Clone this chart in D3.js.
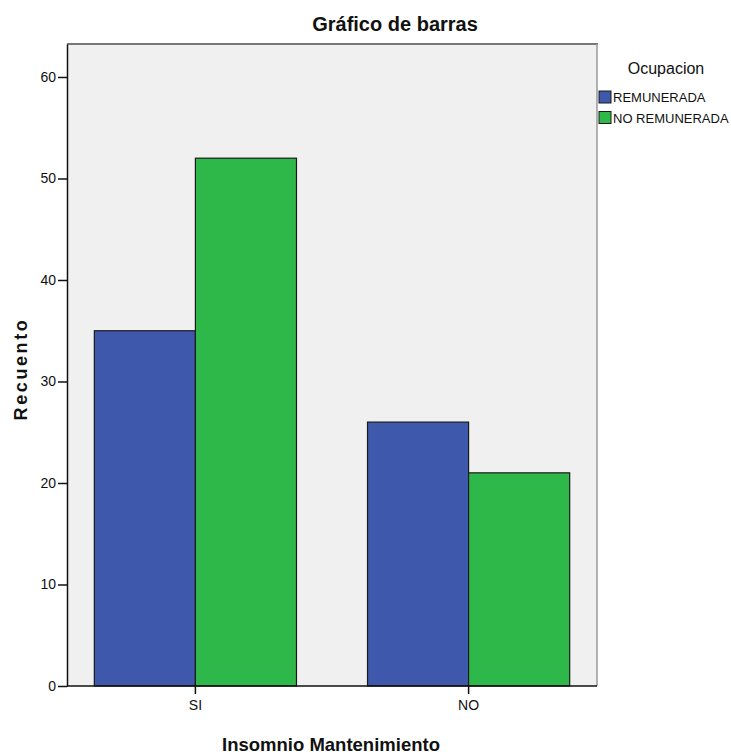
<!DOCTYPE html>
<html>
<head>
<meta charset="utf-8">
<script src="https://cdn.jsdelivr.net/npm/d3@7"></script>
<style>
  html, body { margin: 0; padding: 0; background: #fff; }
  svg { display: block; }
  text { font-family: "Liberation Sans", Arial, sans-serif; fill: #111; }
</style>
</head>
<body>
<svg id="chart" width="731" height="754"></svg>
<script>
// Recuento por categoría de insomnio y tipo de ocupación
const categories = ["SI", "NO"];
const seriesNames = ["REMUNERADA", "NO REMUNERADA"];
const remunerada = [35, 26];
const noRemunerada = [52, 21];
const yTicks = [0, 10, 20, 30, 40, 50, 60];
const colors = ["#3e58ab", "#2fb84a"];

const rows = categories.map((c, i) => ({
  cat: c,
  values: [
    { key: seriesNames[0], value: remunerada[i] },
    { key: seriesNames[1], value: noRemunerada[i] }
  ]
}));

const svg = d3.select("#chart");
const plot = { left: 67, top: 44, right: 597, bottom: 686 };

const x0 = d3.scaleBand()
  .domain(categories)
  .range([plot.left, plot.right])
  .paddingInner(0.26)
  .paddingOuter(0.1);

const x1 = d3.scaleBand()
  .domain(seriesNames)
  .range([0, x0.bandwidth()])
  .padding(0);

const y = d3.scaleLinear()
  .domain([0, 63.25])
  .range([plot.bottom, plot.top]);

const color = d3.scaleOrdinal().domain(seriesNames).range(colors);

// plot background
svg.append("rect")
  .attr("x", plot.left).attr("y", plot.top)
  .attr("width", plot.right - plot.left)
  .attr("height", plot.bottom - plot.top)
  .attr("fill", "#f0f0f0");

// top and right frame (grey)
svg.append("line")
  .attr("x1", plot.left).attr("x2", plot.right + 1)
  .attr("y1", plot.top).attr("y2", plot.top)
  .attr("stroke", "#777").attr("stroke-width", 2);
svg.append("line")
  .attr("x1", plot.right).attr("x2", plot.right)
  .attr("y1", plot.top).attr("y2", plot.bottom)
  .attr("stroke", "#999").attr("stroke-width", 1.5);

// bars
const groups = svg.append("g").selectAll("g")
  .data(rows)
  .join("g")
  .attr("transform", d => `translate(${x0(d.cat)},0)`);

groups.selectAll("rect")
  .data(d => d.values)
  .join("rect")
  .attr("x", d => x1(d.key))
  .attr("y", d => y(d.value))
  .attr("width", x1.bandwidth())
  .attr("height", d => y(0) - y(d.value))
  .attr("fill", d => color(d.key))
  .attr("stroke", "#1a1a1a")
  .attr("stroke-width", 1.2);

// y axis
const yAxis = svg.append("g")
  .attr("transform", `translate(${plot.left},0)`)
  .call(d3.axisLeft(y).tickValues(yTicks).tickSize(9).tickSizeOuter(0).tickPadding(2));
yAxis.select(".domain").attr("stroke", "#111").attr("stroke-width", 1.5);
yAxis.selectAll(".tick line").attr("stroke", "#111").attr("stroke-width", 1.5);
yAxis.selectAll(".tick text")
  .attr("font-size", 14)
  .attr("fill", "#222");

// x axis
const xAxis = svg.append("g")
  .attr("transform", `translate(0,${plot.bottom})`)
  .call(d3.axisBottom(x0).tickSize(8).tickSizeOuter(0).tickPadding(6));
xAxis.select(".domain")
  .attr("d", `M${plot.left},0H${plot.right}`)
  .attr("stroke", "#111").attr("stroke-width", 1.5);
xAxis.selectAll(".tick line").attr("stroke", "#111").attr("stroke-width", 1.5);
xAxis.selectAll(".tick text")
  .attr("font-size", 14)
  .attr("fill", "#222");

// title
svg.append("text")
  .attr("x", 395).attr("y", 31)
  .attr("text-anchor", "middle")
  .attr("font-size", 20)
  .attr("font-weight", "bold")
  .text("Gráfico de barras");

// axis titles
svg.append("text")
  .attr("x", 331).attr("y", 751)
  .attr("text-anchor", "middle")
  .attr("font-size", 18.5)
  .attr("font-weight", "bold")
  .text("Insomnio Mantenimiento");

svg.append("text")
  .attr("transform", "translate(27,369) rotate(-90)")
  .attr("text-anchor", "middle")
  .attr("font-size", 18)
  .attr("font-weight", "bold")
  .attr("letter-spacing", 2.6)
  .text("Recuento");

// legend
const legend = svg.append("g");
legend.append("text")
  .attr("x", 666).attr("y", 74)
  .attr("text-anchor", "middle")
  .attr("font-size", 16)
  .attr("fill", "#333")
  .text("Ocupacion");

const items = legend.selectAll("g.item")
  .data(seriesNames)
  .join("g")
  .attr("class", "item")
  .attr("transform", (d, i) => `translate(599,${91 + i * 20.5})`);
items.append("rect")
  .attr("width", 12).attr("height", 12)
  .attr("fill", d => color(d))
  .attr("stroke", "#1a1a1a").attr("stroke-width", 1);
items.append("text")
  .attr("x", 14).attr("y", 11)
  .attr("font-size", 13)
  .attr("fill", "#111")
  .text(d => d);
</script>
</body>
</html>
